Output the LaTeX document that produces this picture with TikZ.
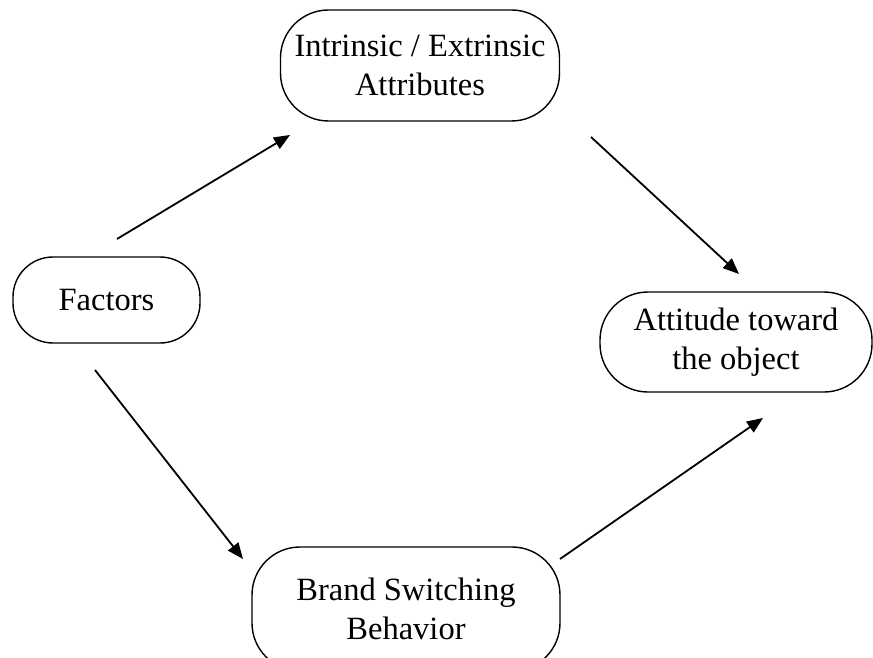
\documentclass[tikz,border=0pt]{standalone}
\usepackage{fontspec}
\setmainfont{Liberation Serif}
\usetikzlibrary{arrows.meta}
\begin{document}
\begin{tikzpicture}[x=1pt,y=-1pt,
  box/.style={draw, line width=1.4pt, rounded corners=48pt, align=center,
    inner sep=0pt, font=\fontsize{32.5}{38.5}\selectfont},
  conn/.style={line width=1.8pt, -{Triangle[length=16pt,width=13pt]}}]
\useasboundingbox (0,0) rectangle (873,658);
\clip (0,0) rectangle (873,658);
\fill[white] (0,0) rectangle (873,658);
\node[box, minimum width=279pt, minimum height=111pt] (attr) at (420,65.5) {Intrinsic / Extrinsic\\Attributes};
\node[box, rounded corners=40pt, minimum width=187pt, minimum height=86pt] (fac) at (106.5,300) {Factors};
\node[box, minimum width=272pt, minimum height=100pt] (att) at (736,342) {Attitude toward\\the object};
\node[box, minimum width=308pt, minimum height=124pt] (brand) at (406,609) {Brand Switching\\Behavior};
\coordinate (a1s) at (117,239);
\coordinate (a1e) at (290,135);
\coordinate (a2s) at (591,137);
\coordinate (a2e) at (739,274);
\coordinate (a3s) at (95,370);
\coordinate (a3e) at (243,559);
\coordinate (a4s) at (560,559);
\coordinate (a4e) at (763,418);
\draw[conn] (a1s) -- (a1e);
\draw[conn] (a2s) -- (a2e);
\draw[conn] (a3s) -- (a3e);
\draw[conn] (a4s) -- (a4e);
\end{tikzpicture}
\end{document}
